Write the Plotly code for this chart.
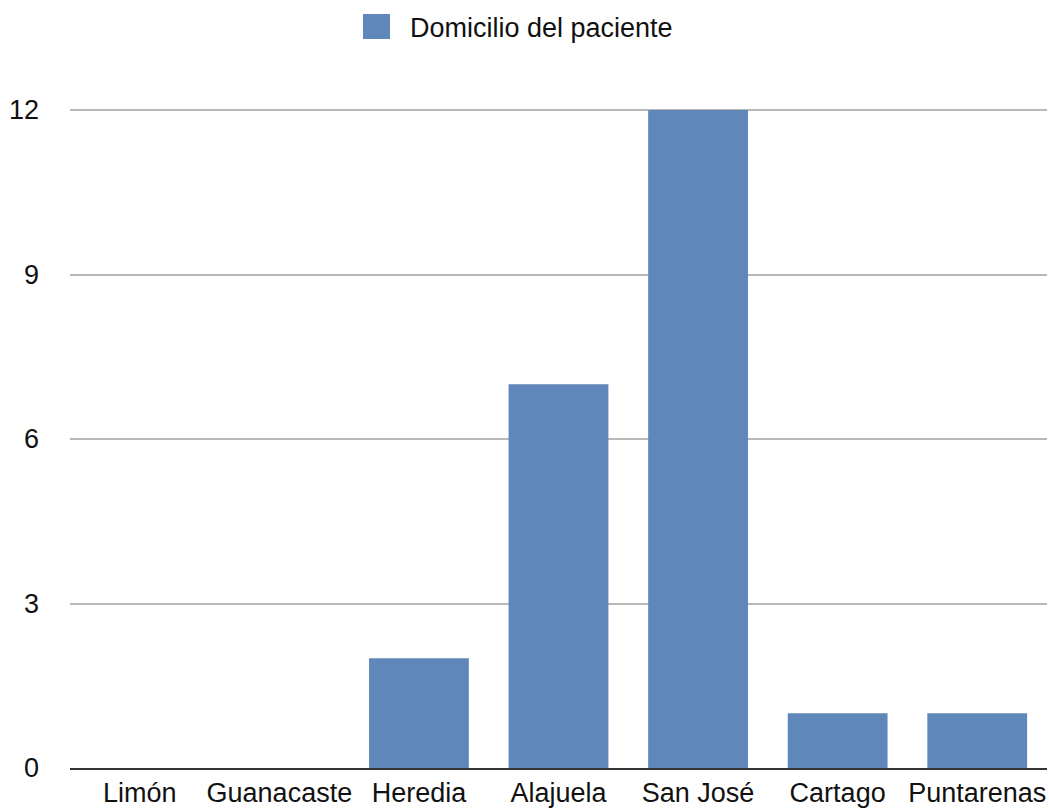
import plotly.graph_objects as go

# Pacientes por provincia de domicilio
provincias = ["Limón", "Guanacaste", "Heredia", "Alajuela", "San José", "Cartago", "Puntarenas"]
pacientes = [0, 0, 2, 7, 12, 1, 1]
serie = "Domicilio del paciente"
y_ticks = [0, 3, 6, 9, 12]

BAR_COLOR = "#5f87b9"
FONT = "Liberation Sans, Arial, Helvetica, sans-serif"
FONT_SIZE = 27

# Plot area geometry (pixels)
TOP, BOTTOM, LEFT, RIGHT = 106, 41, 70, 2
PLOT_H = 809 - TOP - BOTTOM
PLOT_W = 1049 - LEFT - RIGHT
Y_MAX = 12 * PLOT_H / (768 - 110)   # a little headroom so the top grid line shows

fig = go.Figure()
fig.add_trace(go.Bar(
    x=provincias,
    y=pacientes,
    name=serie,
    marker=dict(color=BAR_COLOR, line=dict(width=0)),
    showlegend=False,
))

# Legend drawn as a square swatch plus label
def px_x(x):
    return (x - LEFT) / PLOT_W

def px_y(y):
    return (809 - BOTTOM - y) / PLOT_H

fig.add_shape(type="rect", xref="paper", yref="paper",
              x0=px_x(363), x1=px_x(390), y0=px_y(39), y1=px_y(14),
              fillcolor=BAR_COLOR, line=dict(width=0))
fig.add_annotation(text=serie, xref="paper", yref="paper",
                   x=px_x(408), y=px_y(28),
                   xanchor="left", yanchor="middle", showarrow=False,
                   font=dict(size=FONT_SIZE, color="#111111", family=FONT))

fig.update_layout(
    width=1049, height=809,
    margin=dict(l=LEFT, r=RIGHT, t=TOP, b=BOTTOM),
    paper_bgcolor="white", plot_bgcolor="white",
    bargap=0.285,
    font=dict(family=FONT, size=FONT_SIZE, color="#111111"),
)
fig.update_xaxes(
    showline=True, linecolor="#333333", linewidth=2,
    showgrid=False, ticks="", tickfont=dict(size=FONT_SIZE),
)
fig.update_yaxes(
    range=[0, Y_MAX], tickvals=y_ticks,
    showgrid=True, gridcolor="#b8b8b8", gridwidth=2,
    zeroline=False, showline=False, ticks="",
    ticklabelstandoff=30, tickfont=dict(size=FONT_SIZE),
)

fig.write_html("out.html")
